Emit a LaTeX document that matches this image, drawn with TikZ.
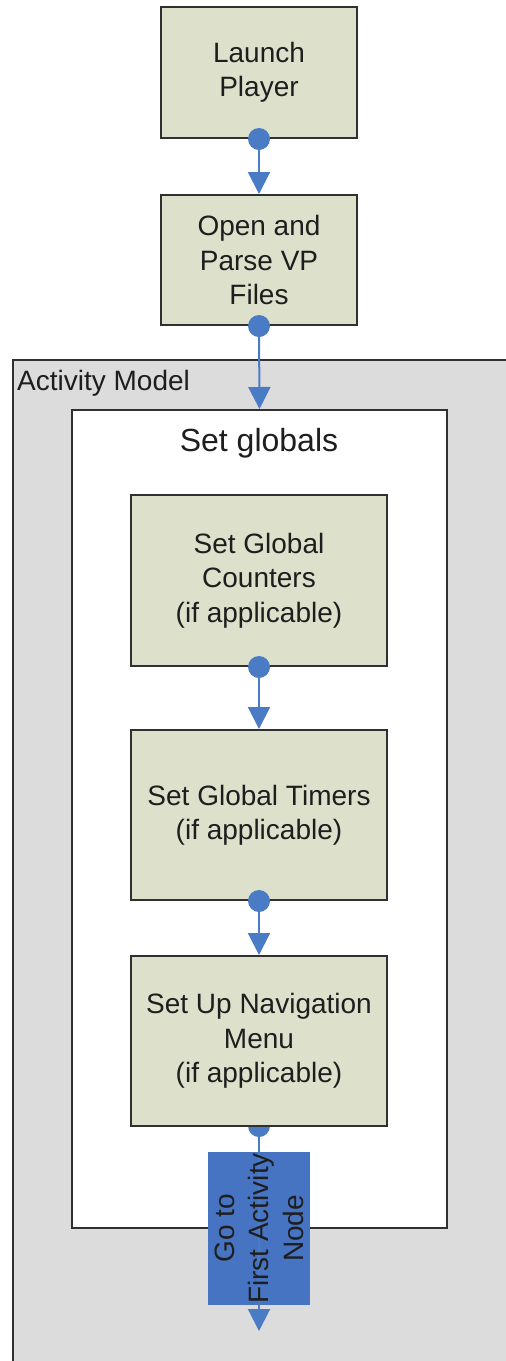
\documentclass[tikz,border=0pt]{standalone}
\usepackage{fontspec}
\setmainfont{Liberation Sans}
\usetikzlibrary{arrows.meta}
\definecolor{boxfill}{HTML}{DDE1CB}
\definecolor{flowblue}{HTML}{4A7CC6}
\definecolor{goblue}{HTML}{4674C2}
\definecolor{modelgray}{HTML}{DCDCDC}
\definecolor{edge}{HTML}{303030}
\definecolor{ink}{HTML}{1E1E1E}
\begin{document}
\begin{tikzpicture}[x=1pt,y=-1pt,
  font=\fontsize{28}{34.5}\selectfont,
  stepbox/.style={draw=edge, line width=2pt, fill=boxfill, text=ink,
    align=center, inner sep=0pt},
  conn/.style={draw=flowblue, line width=2pt,
    -{Triangle[width=22pt,length=22pt,fill=flowblue]}},
  dot/.style={fill=flowblue}]
\useasboundingbox (0,0) rectangle (506,1361);
\fill[white] (0,0) rectangle (506,1361);

% outer activity model container (runs off the page to the right and bottom)
\node[draw=edge, line width=2pt, fill=modelgray, minimum width=510pt,
  minimum height=1020pt, inner sep=0pt, anchor=north west] (model) at (12,359) {};
\node[anchor=west, text=ink, inner sep=0pt] (modellbl) at (17,383) {Activity Model};

% "Set globals" frame
\node[draw=edge, line width=2pt, fill=white, minimum width=375pt,
  minimum height=818pt, inner sep=0pt] (sg) at (259.5,819) {};
\node[text=ink, font=\fontsize{32}{38}\selectfont] (sglbl) at (259,443) {Set globals};

% steps
\node[stepbox, minimum width=196pt, minimum height=131pt] (lp) at (259,72.5)
  {Launch\\Player};
\node[stepbox, minimum width=196pt, minimum height=130pt] (op) at (259,260)
  {Open and\\Parse VP\\Files};
\node[stepbox, minimum width=256pt, minimum height=171pt] (c1) at (259,580.5)
  {Set Global\\Counters\\(if applicable)};
\node[stepbox, minimum width=256pt, minimum height=170pt] (c2) at (259,815)
  {Set Global Timers\\(if applicable)};

% the last step sits on top of its outgoing dot
\fill[dot] (259,1126) circle (11pt);
\node[stepbox, minimum width=256pt, minimum height=170pt] (c3) at (259,1041)
  {Set Up Navigation\\Menu\\(if applicable)};

% final action
\node[fill=goblue, minimum width=102pt, minimum height=153pt, inner sep=0pt]
  (go) at (259,1228.5) {};
\coordinate (end) at (259,1331);

% connectors
\fill[dot] (lp.south) circle (11pt);
\draw[conn] (lp.south) -- (op.north);
\fill[dot] (op.south) circle (11pt);
\draw[conn] (op.south) -- (sg.north);
\fill[dot] (c1.south) circle (11pt);
\draw[conn] (c1.south) -- (c2.north);
\fill[dot] (c2.south) circle (11pt);
\draw[conn] (c2.south) -- (c3.north);
\draw[conn] (c3.south) -- (end);

\node[rotate=90, align=center, text=ink, inner sep=0pt] (golbl) at (go.center)
  {Go to\\First Activity\\Node};
\end{tikzpicture}
\end{document}
